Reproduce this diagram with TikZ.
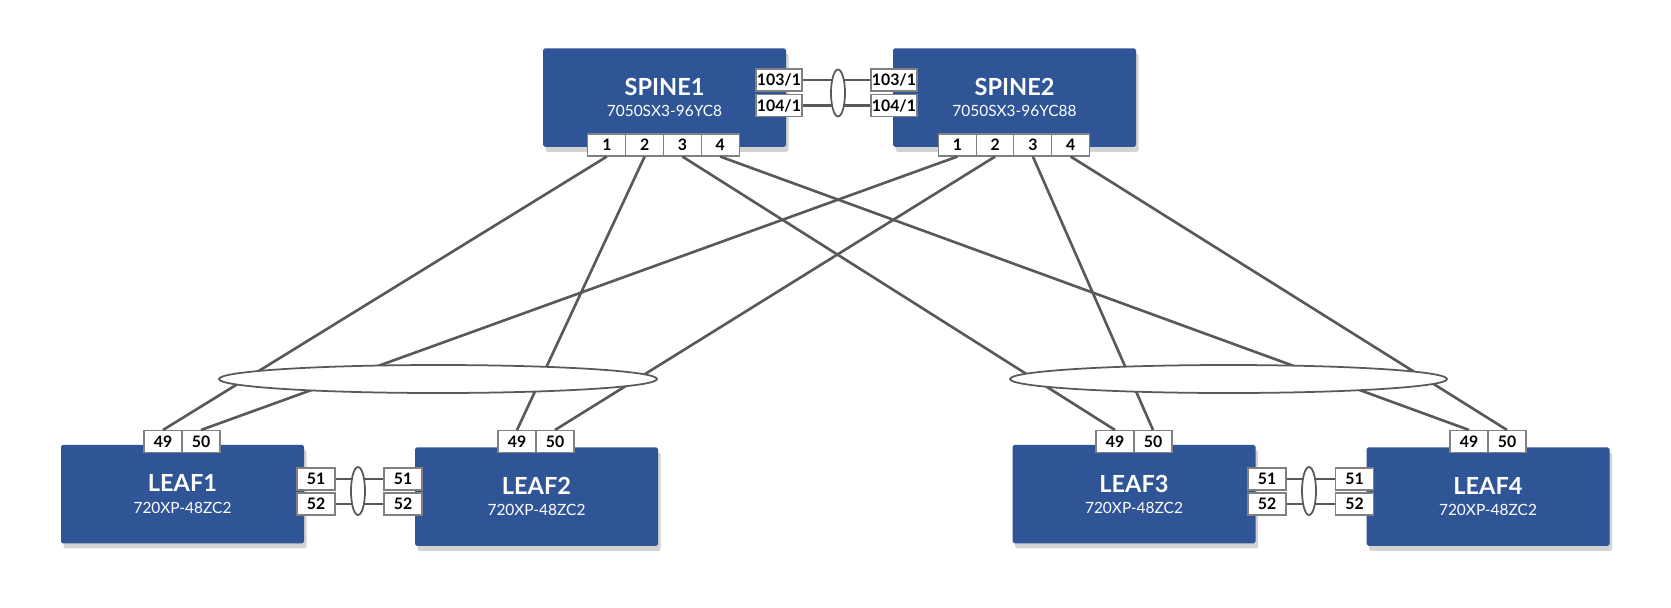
\documentclass[tikz,border=0pt]{standalone}
\usepackage{fontspec}
\setmainfont{Lato}
\usetikzlibrary{shapes.geometric,shadows}
\definecolor{swblue}{RGB}{47,85,151}
\definecolor{wire}{RGB}{89,89,89}
\definecolor{portline}{RGB}{128,128,128}
\newcommand{\swname}[1]{{\bfseries\fontsize{13.4}{15}\selectfont #1}}

\begin{document}
\begin{tikzpicture}[
  switch/.style={fill=swblue,text=white,rounded corners=1pt,minimum width=4.86cm,minimum height=1.97cm,
    align=center,inner sep=0pt,font=\fontsize{8.8}{12}\selectfont,
    drop shadow={shadow xshift=0.05cm,shadow yshift=-0.1cm,opacity=0.35}},
  port/.style={draw=portline,fill=white,line width=0.6pt,minimum width=0.76cm,minimum height=0.44cm,
    inner sep=0pt,font=\bfseries\fontsize{9}{10}\selectfont},
  wport/.style={port,minimum width=0.92cm},
  link/.style={wire,line width=1.5pt},
  lag/.style={ellipse,draw=wire,fill=white,line width=1pt,inner sep=0pt},
]
  \useasboundingbox (0,0) rectangle (33.42,-12.14);

  \node[switch] (spine1) at (13.29,-1.95) {\swname{SPINE1}\\7050SX3-96YC8};
  \node[switch] (spine2) at (20.29,-1.95) {\swname{SPINE2}\\7050SX3-96YC88};
  \node[switch] (leaf1) at (3.65,-9.88) {\swname{LEAF1}\\720XP-48ZC2};
  \node[switch] (leaf2) at (10.73,-9.93) {\swname{LEAF2}\\720XP-48ZC2};
  \node[switch] (leaf3) at (22.68,-9.88) {\swname{LEAF3}\\720XP-48ZC2};
  \node[switch] (leaf4) at (29.76,-9.93) {\swname{LEAF4}\\720XP-48ZC2};

  % spine ports
  \foreach \i in {1,...,4} {
    \node[port] (s1p\i) at ({13.27+(\i-2.5)*0.755},-2.9) {\i};
    \node[port] (s2p\i) at ({20.28+(\i-2.5)*0.755},-2.9) {\i};
  }
  \node[wport] (s1p103) at (15.58,-1.60) {103/1};
  \node[wport] (s1p104) at (15.58,-2.11) {104/1};
  \node[wport] (s2p103) at (17.88,-1.60) {103/1};
  \node[wport] (s2p104) at (17.88,-2.11) {104/1};

  % leaf ports
  \foreach \n/\x in {1/3.64,2/10.72,3/22.68,4/29.76} {
    \node[port] (l\n p49) at (\x-0.38,-8.83) {49};
    \node[port] (l\n p50) at (\x+0.38,-8.83) {50};
  }
  \node[port] (l1p51) at (6.32,-9.58) {51};
  \node[port] (l1p52) at (6.32,-10.08) {52};
  \node[port] (l2p51) at (8.06,-9.58) {51};
  \node[port] (l2p52) at (8.06,-10.08) {52};
  \node[port] (l3p51) at (25.34,-9.58) {51};
  \node[port] (l3p52) at (25.34,-10.08) {52};
  \node[port] (l4p51) at (27.09,-9.58) {51};
  \node[port] (l4p52) at (27.09,-10.08) {52};

  % uplinks
  \foreach \n in {1,...,4} {
    \draw[link] (s1p\n.south) -- (l\n p49.north);
    \draw[link] (s2p\n.south) -- (l\n p50.north);
  }
  \node[lag,minimum width=8.76cm,minimum height=0.56cm] (lagA) at (8.76,-7.58) {};
  \node[lag,minimum width=8.74cm,minimum height=0.56cm] (lagB) at (24.57,-7.58) {};

  % peer links
  \draw[link] (s1p103) -- (s2p103);
  \draw[link] (s1p104) -- (s2p104);
  \draw[link] (l1p51) -- (l2p51);
  \draw[link] (l1p52) -- (l2p52);
  \draw[link] (l3p51) -- (l4p51);
  \draw[link] (l3p52) -- (l4p52);
  \node[lag,minimum width=0.28cm,minimum height=0.94cm] (peerS) at (16.76,-1.86) {};
  \node[lag,minimum width=0.28cm,minimum height=0.96cm] (peerA) at (7.16,-9.82) {};
  \node[lag,minimum width=0.28cm,minimum height=0.96cm] (peerB) at (26.18,-9.82) {};
\end{tikzpicture}
\end{document}
